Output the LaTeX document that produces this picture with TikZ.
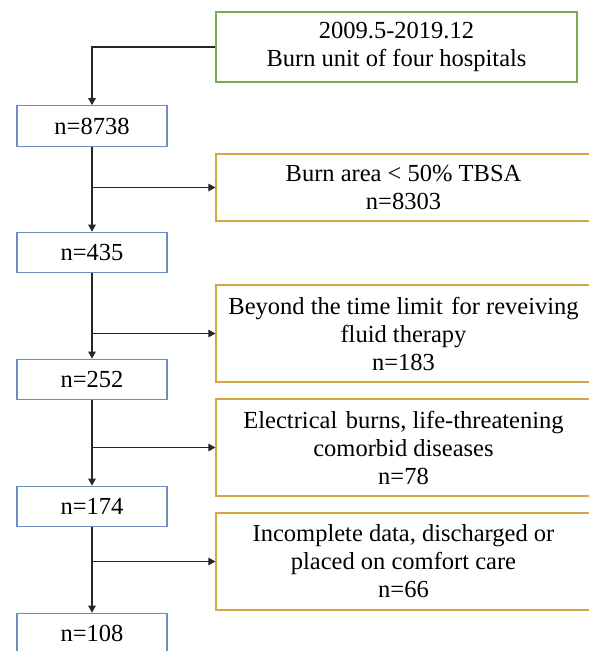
\documentclass[tikz,border=0pt]{standalone}
\usepackage{fontspec}
\setmainfont{Liberation Serif}
\usetikzlibrary{arrows.meta}
\definecolor{boxgreen}{HTML}{7AAA55}
\definecolor{boxblue}{HTML}{6C8EBF}
\definecolor{boxgold}{HTML}{D4A640}
\definecolor{linegray}{HTML}{262626}
\tikzset{
  basebox/.style={draw, line width=1.2pt, rectangle, inner sep=0pt, align=center,
    font=\fontsize{24.5}{28}\selectfont, text=black},
  startbox/.style={basebox, draw=boxgreen, minimum width=361pt, minimum height=70pt},
  countbox/.style={basebox, draw=boxblue, minimum width=150pt, minimum height=40.5pt},
  exclbox/.style={basebox, draw=boxgold, minimum width=375pt},
  flow/.style={draw=linegray, line width=1.1pt, -{Triangle[length=7pt,width=7.5pt]}},
  plainline/.style={draw=linegray, line width=1.1pt}
}
\begin{document}
\begin{tikzpicture}[x=1pt,y=-1pt]
\useasboundingbox (0,0) rectangle (589,651);
\fill[white] (0,0) rectangle (589,651);
\node[startbox] (top) at (396.5,47) {2009.5-2019.12\\Burn unit of four hospitals};
\node[countbox] (b1) at (92,126) {n=8738};
\node[countbox] (b2) at (92,252.5) {n=435};
\node[countbox] (b3) at (92,379.5) {n=252};
\node[countbox] (b4) at (92,506.5) {n=174};
\node[countbox] (b5) at (92,633.5) {n=108};
\node[exclbox, minimum height=67pt] (o1) at (403.5,187.5) {Burn area < 50\% TBSA\\n=8303};
\node[exclbox, minimum height=97pt] (o2) at (403.5,333.5) {Beyond the time limit\hspace{0.1em} for reveiving\\fluid therapy\\n=183};
\node[exclbox, minimum height=97pt] (o3) at (403.5,447.5) {Electrical\hspace{0.1em} burns, life-threatening\\comorbid diseases\\n=78};
\node[exclbox, minimum height=97pt] (o4) at (403.5,561.5) {Incomplete data, discharged or\\placed on comfort care\\n=66};
\draw[flow] (top.west) -| (b1.north);
\draw[flow] (b1.south) -- (b2.north);
\draw[flow] (b2.south) -- (b3.north);
\draw[flow] (b3.south) -- (b4.north);
\draw[flow] (b4.south) -- (b5.north);
\draw[flow] (b1.south |- o1.west) -- (o1.west);
\draw[flow] (b2.south |- o2.west) -- (o2.west);
\draw[flow] (b3.south |- o3.west) -- (o3.west);
\draw[flow] (b4.south |- o4.west) -- (o4.west);
\end{tikzpicture}
\end{document}
